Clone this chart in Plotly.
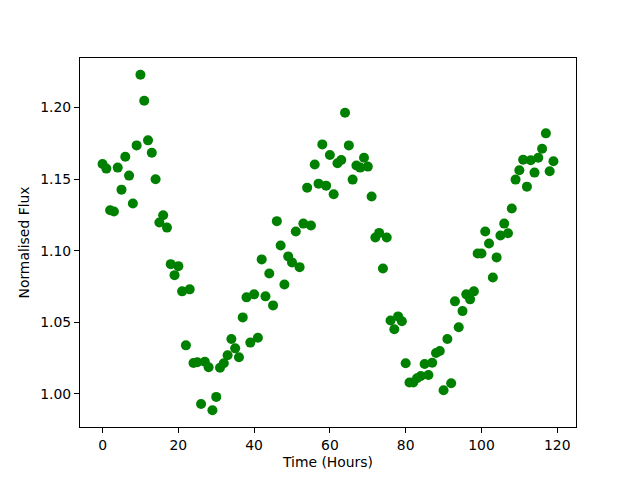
import plotly.graph_objects as go

hours = list(range(120))
flux = [
    1.1605, 1.1573, 1.1282, 1.1273, 1.1580, 1.1426, 1.1656, 1.1524, 1.1329, 1.1735,
    1.2228, 1.2047, 1.1770, 1.1684, 1.1498, 1.1197, 1.1247, 1.1161, 1.0906, 1.0829,
    1.0892, 1.0716, 1.0339, 1.0730, 1.0216, 1.0221, 0.9930, 1.0225, 1.0186, 0.9886,
    0.9979, 1.0183, 1.0214, 1.0270, 1.0383, 1.0318, 1.0256, 1.0534, 1.0674, 1.0358,
    1.0695, 1.0392, 1.0939, 1.0681, 1.0841, 1.0618, 1.1206, 1.1036, 1.0764, 1.0960,
    1.0918, 1.1134, 1.0885, 1.1189, 1.1440, 1.1176, 1.1601, 1.1468, 1.1742, 1.1454,
    1.1668, 1.1394, 1.1610, 1.1633, 1.1963, 1.1735, 1.1496, 1.1594, 1.1580, 1.1649,
    1.1587, 1.1378, 1.1092, 1.1124, 1.0876, 1.1092, 1.0513, 1.0451, 1.0541, 1.0507,
    1.0214, 1.0079, 1.0079, 1.0109, 1.0125, 1.0209, 1.0132, 1.0218, 1.0286, 1.0300,
    1.0026, 1.0383, 1.0074, 1.0646, 1.0465, 1.0578, 1.0695, 1.0660, 1.0716, 1.0980,
    1.0980, 1.1134, 1.1050, 1.0813, 1.0953, 1.1106, 1.1189, 1.1122, 1.1294, 1.1496,
    1.1561, 1.1635, 1.1447, 1.1631, 1.1545, 1.1649, 1.1712, 1.1819, 1.1554, 1.1624,
]

fig = go.Figure(go.Scatter(
    x=hours, y=flux, mode="markers",
    marker=dict(color="#008000", size=10, line=dict(width=0)),
))

xmin, xmax = min(hours), max(hours)
ymin, ymax = min(flux), max(flux)
xp = 0.05 * (xmax - xmin)
yp = 0.05 * (ymax - ymin)

FS = 13.9

axis_common = dict(
    showline=True, linecolor="black", linewidth=1, mirror=True,
    ticks="outside", ticklen=5, tickcolor="black", tickwidth=1,
    showgrid=False, zeroline=False, automargin=False,
    tickfont=dict(family="DejaVu Sans", size=FS, color="black"),
)

fig.update_layout(
    width=640, height=480,
    margin=dict(l=80, r=64, t=58, b=53),
    plot_bgcolor="white", paper_bgcolor="white",
    showlegend=False,
    font=dict(family="DejaVu Sans", size=FS, color="black"),
    xaxis=dict(range=[xmin - xp, xmax + xp], tickmode="linear", tick0=0, dtick=20,
               title=dict(text="Time (Hours)", standoff=5,
                          font=dict(family="DejaVu Sans", size=FS)),
               **axis_common),
    yaxis=dict(range=[ymin - yp, ymax + yp], tickmode="linear", tick0=1.0, dtick=0.05,
               tickformat=".2f",
               title=dict(text="Normalised Flux", standoff=7,
                          font=dict(family="DejaVu Sans", size=FS)),
               **axis_common),
)

fig.write_html("out.html",
               config={"displayModeBar": False},
               post_script="document.body.style.margin='0';document.body.style.padding='0';")
